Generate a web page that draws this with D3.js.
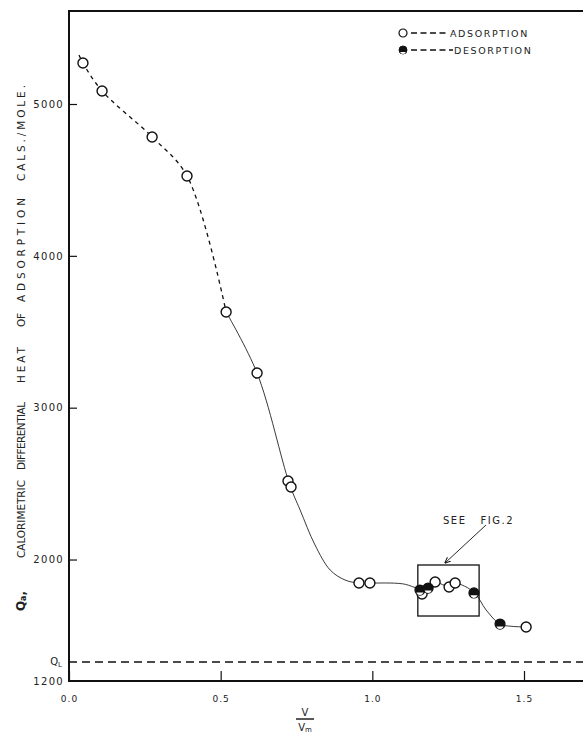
<!DOCTYPE html>
<html>
<head>
<meta charset="utf-8">
<script src="https://cdn.jsdelivr.net/npm/d3@7/dist/d3.min.js"></script>
<style>
  body { margin: 0; background: #fff; }
  text { font-family: "DejaVu Sans", sans-serif; fill: #222; }
</style>
</head>
<body>
<div id="chart"></div>
<script>
// values  (x = V/Vm, y = cals/mole)
var adsX = [0.046, 0.109, 0.274, 0.389, 0.518, 0.620, 0.722, 0.732, 0.956, 0.992, 1.164, 1.207, 1.253, 1.273, 1.507];
var adsY = [5270, 5086, 4783, 4526, 3630, 3228, 2517, 2478, 1845, 1845, 1773, 1852, 1819, 1845, 1556];
var desX = [1.157, 1.184, 1.335, 1.421];
var desY = [1799, 1812, 1780, 1575];

// the hand drawn curve, traced
var curveX = [0.033, 0.046, 0.109, 0.274, 0.389, 0.518, 0.620, 0.727, 0.762, 0.811, 0.861, 0.910, 0.956, 0.992, 1.10, 1.17, 1.207, 1.24, 1.273, 1.335, 1.375, 1.421, 1.46, 1.507];
var curveY = [5323, 5270, 5086, 4783, 4526, 3630, 3228, 2497, 2326, 2096, 1931, 1865, 1845, 1845, 1840, 1805, 1852, 1830, 1845, 1785, 1668, 1575, 1560, 1556];
var dashedUpTo = 5; // dashed part ends at this curve point

var yTicks = [2000, 3000, 4000, 5000];
var xTicks = [0.0, 0.5, 1.0, 1.5];
var xTickLabels = ['0.0', '0.5', '1.0', '1.5'];
var qL = 1325;
var boxX = [1.15, 1.352];
var boxY = [1628, 1964];

var W = 583, H = 733;
var svg = d3.select('#chart').append('svg')
    .attr('width', W)
    .attr('height', H);

var x = d3.scaleLinear().domain([0, 1.5]).range([69, 524]);
var y = d3.scaleLinear().domain([1200, 5000]).range([681, 104]);
var yTop = 5613;

// frame
svg.append('line').attr('x1', x(0)).attr('x2', W).attr('y1', y(yTop)).attr('y2', y(yTop))
    .attr('stroke', '#111').attr('stroke-width', 2);
svg.append('line').attr('x1', x(0)).attr('x2', W).attr('y1', y(1200)).attr('y2', y(1200))
    .attr('stroke', '#111').attr('stroke-width', 2);
svg.append('line').attr('x1', x(0)).attr('x2', x(0)).attr('y1', y(yTop) - 1).attr('y2', y(1200) + 1)
    .attr('stroke', '#111').attr('stroke-width', 2);

// axes
var yAxis = svg.append('g')
    .attr('transform', 'translate(' + x(0) + ',0)')
    .call(d3.axisLeft(y).tickValues(yTicks).tickSize(-8).tickPadding(5).tickFormat(d3.format('d')));
yAxis.select('.domain').remove();
yAxis.selectAll('line').attr('stroke', '#111').attr('stroke-width', 1.2);
yAxis.selectAll('text').attr('font-size', 10).attr('letter-spacing', 1.3).attr('fill', '#222');

var xAxis = svg.append('g')
    .attr('transform', 'translate(0,' + y(1200) + ')')
    .call(d3.axisBottom(x).tickValues(xTicks).tickSize(-10).tickPadding(15)
      .tickFormat(function(d, i) { return xTickLabels[i]; }));
xAxis.select('.domain').remove();
xAxis.selectAll('line').attr('stroke', '#111').attr('stroke-width', 1.2);
xAxis.selectAll('text').attr('font-size', 9).attr('letter-spacing', 1).attr('fill', '#444');

// 1200 and QL labels
svg.append('text').attr('x', 64).attr('y', y(1200) + 4).attr('text-anchor', 'end')
    .attr('font-size', 10).attr('letter-spacing', 1.3).text('1200');
var ql = svg.append('text').attr('x', 62).attr('y', y(qL) + 3).attr('text-anchor', 'end').attr('font-size', 10);
ql.append('tspan').text('Q');
ql.append('tspan').attr('font-size', 7).attr('dy', 2).text('L');

// QL dashed line
svg.append('line').attr('x1', x(0)).attr('x2', W).attr('y1', y(qL)).attr('y2', y(qL))
    .attr('stroke', '#111').attr('stroke-width', 1.6).attr('stroke-dasharray', '8,5');

// curve
var pts = curveX.map(function(d, i) { return [x(d), y(curveY[i])]; });
var line = d3.line().curve(d3.curveCatmullRom.alpha(0.5));
svg.append('path').attr('d', line(pts.slice(0, dashedUpTo + 1)))
    .attr('fill', 'none').attr('stroke', '#111').attr('stroke-width', 1.3).attr('stroke-dasharray', '4,4');
svg.append('path').attr('d', line(pts.slice(dashedUpTo)))
    .attr('fill', 'none').attr('stroke', '#222').attr('stroke-width', 0.9);

// box "see fig 2"
svg.append('rect')
    .attr('x', x(boxX[0])).attr('y', y(boxY[1]))
    .attr('width', x(boxX[1]) - x(boxX[0])).attr('height', y(boxY[0]) - y(boxY[1]))
    .attr('fill', 'none').attr('stroke', '#111').attr('stroke-width', 1.3);

svg.append('defs').append('marker')
    .attr('id', 'arr').attr('viewBox', '0 0 10 10').attr('refX', 9).attr('refY', 5)
    .attr('markerWidth', 7).attr('markerHeight', 7).attr('orient', 'auto')
  .append('path').attr('d', 'M0,1 L10,5 L0,9').attr('fill', 'none').attr('stroke', '#111').attr('stroke-width', 1.5);
svg.append('line').attr('x1', 486).attr('y1', 525).attr('x2', 445).attr('y2', 563)
    .attr('stroke', '#111').attr('stroke-width', 0.9).attr('marker-end', 'url(#arr)');
svg.append('text').attr('x', 443).attr('y', 524).attr('font-size', 10).attr('letter-spacing', 1.5)
    .attr('xml:space', 'preserve').style('white-space', 'pre').text('SEE   FIG.2');

// markers
var r = 5;
svg.append('g').selectAll('circle').data(adsX).enter().append('circle')
    .attr('cx', function(d) { return x(d); })
    .attr('cy', function(d, i) { return y(adsY[i]); })
    .attr('r', r).attr('fill', '#fff').attr('stroke', '#111').attr('stroke-width', 1.4);

function desMark(g) {
  g.append('circle').attr('r', r).attr('fill', '#111').attr('stroke', '#111').attr('stroke-width', 1.2);
  var h = 2.4, w = Math.sqrt(r * r - h * h) - 0.8;
  g.append('path').attr('d', 'M' + (-w) + ',' + h + ' A' + (r - 1.2) + ',' + (r - 1.2) + ' 0 0 0 ' + w + ',' + h + ' Z')
    .attr('fill', '#fff');
}
svg.append('g').selectAll('g').data(desX).enter().append('g')
    .attr('transform', function(d, i) { return 'translate(' + x(d) + ',' + y(desY[i]) + ')'; })
    .each(function() { desMark(d3.select(this)); });

// legend
var lg = svg.append('g').attr('transform', 'translate(403,33)');
lg.append('circle').attr('r', 4).attr('fill', '#fff').attr('stroke', '#111').attr('stroke-width', 1.2);
lg.append('line').attr('x1', 8).attr('x2', 46).attr('stroke', '#111').attr('stroke-width', 1.6).attr('stroke-dasharray', '6,3.5');
lg.append('text').attr('x', 47).attr('y', 4).attr('font-size', 9.5).attr('letter-spacing', 1.6).text('ADSORPTION');
var lg2 = svg.append('g').attr('transform', 'translate(403,50)');
desMark(lg2.append('g').attr('transform', 'scale(0.8)'));
lg2.append('line').attr('x1', 8).attr('x2', 50).attr('stroke', '#111').attr('stroke-width', 1.6).attr('stroke-dasharray', '6,3.5');
lg2.append('text').attr('x', 51).attr('y', 4).attr('font-size', 9.5).attr('letter-spacing', 1.6).text('DESORPTION');

// y label, word by word along the axis
var yWords = [
  ['Q', 601, 0],
  ['CALORIMETRIC', 519, 78],
  ['DIFFERENTIAL', 436, 68],
  ['HEAT', 365, 36],
  ['OF', 320, 14],
  ['ADSORPTION', 250, 104],
  ['CALS./MOLE.', 133, 96]
];
yWords.forEach(function(w) {
  var t = svg.append('text')
      .attr('transform', 'translate(25,' + w[1] + ') rotate(-90)')
      .attr('text-anchor', 'middle')
      .attr('font-size', 10.5)
      .attr('fill', '#333');
  if (w[0] === 'Q') {
    t.attr('font-size', 12).attr('font-weight', 'bold');
    t.append('tspan').text('Q');
    t.append('tspan').attr('font-size', 8).attr('dy', 1).text('a');
    t.append('tspan').attr('dy', -1).text(',');
  } else {
    t.attr('textLength', w[2]).attr('lengthAdjust', 'spacing').text(w[0]);
  }
});

// x label V / Vm
svg.append('text').attr('x', 305).attr('y', 716).attr('text-anchor', 'middle').attr('font-size', 10).text('V');
svg.append('line').attr('x1', 296).attr('x2', 314).attr('y1', 719).attr('y2', 719).attr('stroke', '#111').attr('stroke-width', 1.4);
var vm = svg.append('text').attr('x', 305).attr('y', 731).attr('text-anchor', 'middle').attr('font-size', 10);
vm.append('tspan').text('V');
vm.append('tspan').attr('font-size', 7).attr('dy', 1).text('m');
</script>
</body>
</html>
